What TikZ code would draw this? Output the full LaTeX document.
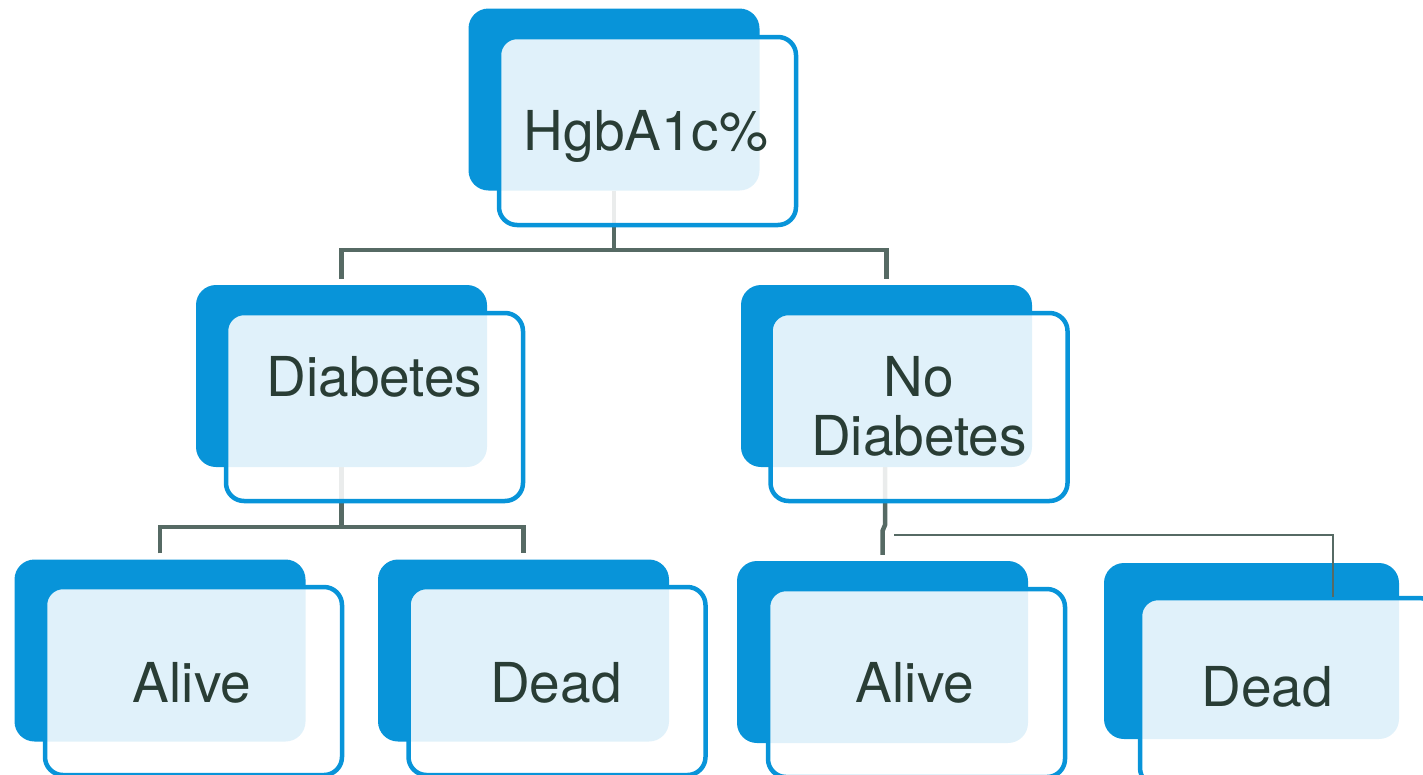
\documentclass[tikz,border=0pt]{standalone}
\usepackage{fontspec}
\setmainfont{TeX Gyre Heros}
\definecolor{bblue}{HTML}{0894D9}
\definecolor{txt}{HTML}{293D35}
\definecolor{lnk}{HTML}{566A64}
\pgfdeclarelayer{bg}
\pgfsetlayers{bg,main}
\begin{document}
\begin{tikzpicture}[x=1pt,y=-1pt,
  backbox/.style={fill=bblue, draw=none, rounded corners=20pt, minimum width=291pt, minimum height=182pt, inner sep=0pt},
  frontbox/.style={draw=bblue, line width=4.5pt, fill=white, fill opacity=0.88, rounded corners=18pt, minimum width=297pt, minimum height=188pt, inner sep=0pt},
  lbl/.style={text=txt, font=\fontsize{55}{59}\selectfont, anchor=base, inner sep=0pt, align=center},
  conn/.style={draw=lnk, line width=4.5pt, line join=miter},
  thinconn/.style={draw=lnk, line width=1.6pt}]
\useasboundingbox (0,0) rectangle (1423,774);
\clip (0,0) rectangle (1423,774);

% junctions
\coordinate (j1) at (614,250);
\coordinate (j2) at (341.5,527);
\coordinate (j3) at (885,525);
\coordinate (j4) at (882.5,531);
\coordinate (t1) at (894,535);
\coordinate (t2) at (1333,597);

% back boxes
\node[backbox] (hb) at (614,99.5) {};
\node[backbox] (db) at (341.5,376) {};
\node[backbox] (nb) at (886.5,376) {};
\node[backbox] (a1b) at (160,650.5) {};
\node[backbox] (d1b) at (523.5,650.5) {};
\node[backbox] (a2b) at (882.5,652) {};
\node[backbox, minimum width=295pt, minimum height=176pt] (d2b) at (1251.5,651) {};

% connectors (behind boxes)
\begin{pgfonlayer}{bg}
\draw[conn] (hb.south) -- (j1);
\draw[conn] ([yshift=6pt]db.north) |- (j1) -| ([yshift=6pt]nb.north);
\draw[conn] (db.south) -- (j2);
\draw[conn] ([yshift=6pt]a1b.north) |- (j2) -| ([yshift=6pt]d1b.north);
\draw[conn] (nb.south -| j3) -- (j3) -- (j4) -- ([yshift=6pt]a2b.north);
\end{pgfonlayer}

% front boxes
\node[frontbox] (hf) at (647.5,131) {};
\node[frontbox] (df) at (374.5,407) {};
\node[frontbox] (nf) at (919,407) {};
\node[frontbox] (a1f) at (193.5,681) {};
\node[frontbox] (d1f) at (557,681) {};
\node[frontbox] (a2f) at (916.5,683) {};
\node[frontbox] (d2f) at (1288.5,692) {};

\draw[thinconn] (t1) -| (t2);

% labels
\node[lbl] (ht) at (646,150) {HgbA1c\%};
\node[lbl] (dt) at (374.5,396) {Diabetes};
\node[lbl] (nt) at (919,455) {No\\Diabetes};
\node[lbl] (a1t) at (192,702) {Alive};
\node[lbl] (d1t) at (556,702) {Dead};
\node[lbl] (a2t) at (915,702) {Alive};
\node[lbl] (d2t) at (1267,706) {Dead};
\end{tikzpicture}
\end{document}
